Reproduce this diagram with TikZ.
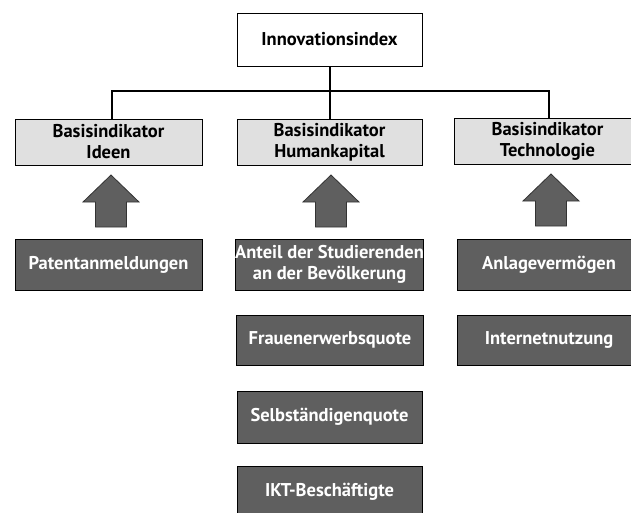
\documentclass[tikz,border=0pt]{standalone}
\usepackage{fontspec}
\setmainfont{PT Sans}
\usetikzlibrary{positioning}
\definecolor{lightbox}{HTML}{E0E0E0}
\definecolor{darkbox}{HTML}{5F5F5F}
\tikzset{
  labelfont/.style={font=\fontsize{18.5}{21}\selectfont\bfseries},
  topbox/.style={draw=black, line width=0.8pt, fill=white, minimum width=185pt, minimum height=53pt, inner sep=0pt, labelfont, align=center},
  basebox/.style={draw=black, line width=0.8pt, fill=lightbox, minimum width=187pt, minimum height=46pt, inner sep=0pt, labelfont, align=center},
  itembox/.style={draw=black, line width=0.8pt, fill=darkbox, text=white, minimum width=187pt, minimum height=51pt, inner sep=0pt, labelfont, align=center},
  conn/.style={draw=black, line width=2pt},
  arrowfill/.style={draw=black!80, line width=0.8pt, fill=darkbox},
  uparrow/.pic={\path[arrowfill] (0,0) -- (28,27) -- (15.5,27) -- (15.5,52) -- (-15.5,52) -- (-15.5,27) -- (-28,27) -- cycle;}
}
\begin{document}
\begin{tikzpicture}[x=1pt, y=-1pt]
\useasboundingbox (0,0) rectangle (631,512);
\clip (0,0) rectangle (631,512);
\node[topbox] (top) at (329.5,39.5) {Innovationsindex};
\node[basebox] (b1) at (108.5,142) {Basisindikator\\Ideen};
\node[basebox, minimum width=185pt] (b2) at (329.5,142) {Basisindikator\\Humankapital};
\node[basebox] (b3) at (547.5,141) {Basisindikator\\Technologie};
\coordinate (hub) at (329.5,91);
\draw[conn] (top.south) -- (hub);
\draw[conn] ([xshift=3pt]b1.north) |- (hub) -| ([xshift=1.5pt]b3.north);
\draw[conn] (hub) -- (b2.north);
\pic at (111,175) {uparrow};
\pic at (331,175) {uparrow};
\pic at (551,174) {uparrow};
\node[itembox] (p1) at (108.5,264.5) {Patentanmeldungen};
\node[itembox, minimum width=185pt] (h1) at (329.5,264.5) {Anteil der Studierenden\\an der Bevölkerung};
\node[itembox, minimum height=50pt] (h2) at (330,340) {Frauenerwerbsquote};
\node[itembox, minimum width=185pt, minimum height=52pt] (h3) at (329.5,417) {Selbständigenquote};
\node[itembox, minimum width=185pt] (h4) at (329.5,491.5) {IKT-Beschäftigte};
\node[itembox, minimum width=184pt] (t1) at (549,264.5) {Anlagevermögen};
\node[itembox, minimum width=184pt, minimum height=50pt] (t2) at (549,340) {Internetnutzung};
\end{tikzpicture}
\end{document}
